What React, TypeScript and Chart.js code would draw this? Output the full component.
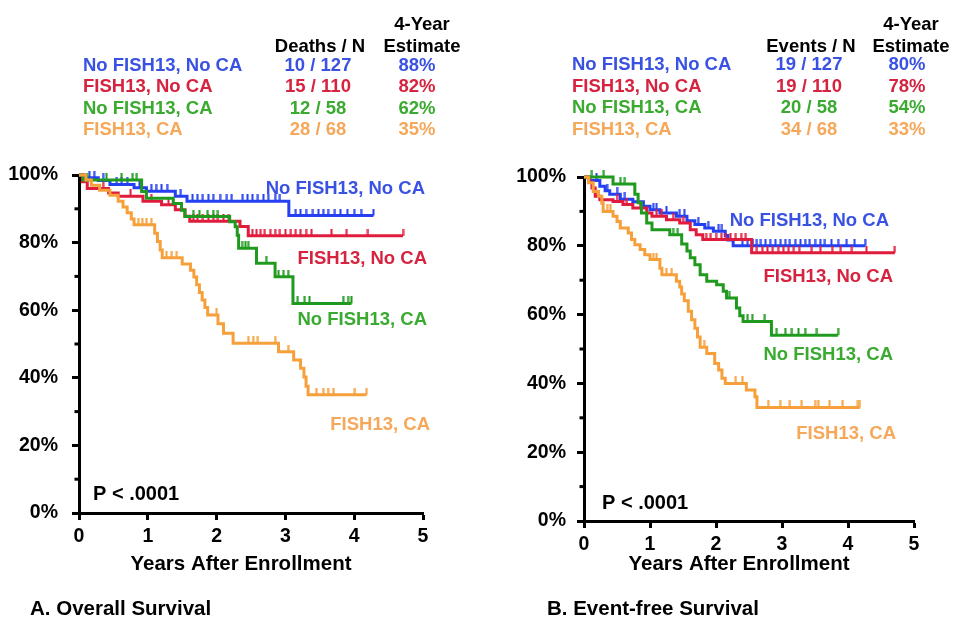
import { useEffect, useRef } from 'react';
import { Chart, registerables } from 'chart.js';

Chart.register(...registerables);

const FONT = "'Liberation Sans', Arial, Helvetica, sans-serif";

// Patient groups and summary table
const groupNames = ['No FISH13, No CA', 'FISH13, No CA', 'No FISH13, CA', 'FISH13, CA'];
const groupN = [127, 110, 58, 68];
const osDeaths = [10, 15, 12, 28];
const osEstimate = [88, 82, 62, 35];
const efsEvents = [19, 19, 20, 34];
const efsEstimate = [80, 78, 54, 33];

// Axis ticks
const xTickValues = [0, 1, 2, 3, 4, 5];
const yTickValues = [0, 0.2, 0.4, 0.6, 0.8, 1];
const yMinorTicks = [0.1, 0.3, 0.5, 0.7, 0.9];

// Overall survival: event times (years), survival after each event, censoring times
const osBlueTimes = [0.08, 0.28, 0.45, 0.8, 0.98, 1.4, 1.57, 3.05];
const osBlueSurv = [0.992, 0.984, 0.972, 0.962, 0.952, 0.937, 0.922, 0.88];
const osBlueCensor = [0.15, 0.22, 0.35, 0.55, 0.62, 0.7, 0.88, 1.05, 1.12, 1.2, 1.28, 1.48, 1.65, 1.72, 1.8, 1.88, 1.95, 2.05, 2.15, 2.22, 2.38, 2.45, 2.52, 2.6, 2.68, 2.75, 2.85, 2.92, 3.15, 3.22, 3.3, 3.4, 3.48, 3.55, 3.62, 3.72, 3.8, 3.9, 4.0, 4.1, 4.28];

const osRedTimes = [0.05, 0.12, 0.43, 0.57, 0.93, 1.2, 1.4, 1.54, 1.61, 2.34, 2.46];
const osRedSurv = [0.98, 0.96, 0.947, 0.937, 0.922, 0.912, 0.897, 0.878, 0.863, 0.848, 0.82];
const osRedCensor = [0.35, 0.75, 1.05, 1.3, 1.66, 1.72, 1.8, 1.88, 1.95, 2.02, 2.1, 2.18, 2.52, 2.58, 2.64, 2.7, 2.78, 2.85, 2.92, 3.0, 3.08, 3.15, 3.22, 3.3, 3.38, 3.67, 3.89, 4.2, 4.71];

const osGreenTimes = [0.06, 0.91, 0.98, 1.37, 1.49, 1.54, 2.19, 2.27, 2.3, 2.32, 2.58, 2.85, 3.11];
const osGreenSurv = [0.985, 0.951, 0.931, 0.916, 0.896, 0.877, 0.862, 0.847, 0.822, 0.783, 0.739, 0.699, 0.62];
const osGreenCensor = [0.12, 0.4, 0.62, 0.78, 0.84, 1.66, 1.75, 1.87, 1.95, 2.02, 2.37, 2.42, 2.46, 2.72, 2.9, 2.97, 3.04, 3.18, 3.28, 3.35, 3.84, 3.91, 3.96];

const osOrangeTimes = [0.1, 0.18, 0.3, 0.45, 0.57, 0.64, 0.7, 0.76, 0.8, 1.1, 1.14, 1.18, 1.21, 1.5, 1.62, 1.67, 1.71, 1.75, 1.79, 1.83, 1.87, 2.02, 2.1, 2.24, 2.9, 3.12, 3.22, 3.27, 3.3, 3.33];
const osOrangeSurv = [0.985, 0.97, 0.955, 0.94, 0.922, 0.905, 0.888, 0.87, 0.853, 0.828, 0.803, 0.778, 0.755, 0.737, 0.718, 0.698, 0.675, 0.652, 0.63, 0.608, 0.586, 0.56, 0.532, 0.502, 0.477, 0.453, 0.428, 0.402, 0.375, 0.35];
const osOrangeCensor = [0.86, 0.92, 0.98, 1.05, 1.27, 1.35, 1.42, 2.0, 2.46, 2.53, 2.6, 2.85, 3.04, 3.45, 3.55, 3.62, 3.7, 4.01, 4.18];

// Event-free survival
const efsBlueTimes = [0.09, 0.24, 0.32, 0.39, 0.55, 0.74, 0.9, 1.0, 1.15, 1.4, 1.56, 1.68, 1.83, 1.96, 2.14, 2.18, 2.26];
const efsBlueSurv = [0.99, 0.973, 0.96, 0.95, 0.935, 0.928, 0.915, 0.905, 0.895, 0.886, 0.873, 0.862, 0.852, 0.842, 0.83, 0.817, 0.8];
const efsBlueCensor = [0.19, 0.35, 0.5, 0.62, 1.05, 1.1, 1.25, 1.45, 1.52, 1.73, 1.88, 2.04, 2.09, 2.4, 2.48, 2.56, 2.62, 2.68, 2.75, 2.82, 2.9, 2.98, 3.05, 3.12, 3.2, 3.28, 3.35, 3.42, 3.5, 3.58, 3.65, 3.75, 3.85, 3.98, 4.1, 4.26];

const efsRedTimes = [0.08, 0.12, 0.17, 0.24, 0.44, 0.59, 0.74, 0.95, 1.03, 1.25, 1.45, 1.61, 1.7, 1.8, 2.54];
const efsRedSurv = [0.985, 0.968, 0.944, 0.934, 0.929, 0.92, 0.91, 0.895, 0.886, 0.876, 0.866, 0.847, 0.832, 0.818, 0.78];
const efsRedCensor = [0.5, 0.65, 0.85, 1.1, 1.18, 1.35, 1.5, 1.85, 1.92, 2.0, 2.08, 2.15, 2.22, 2.3, 2.38, 2.45, 2.62, 2.7, 2.78, 2.86, 2.94, 3.02, 3.1, 3.18, 3.26, 3.45, 3.58, 3.76, 3.89, 4.06, 4.28, 4.71];

const efsGreenTimes = [0.44, 0.77, 0.82, 0.87, 0.95, 1.03, 1.3, 1.48, 1.56, 1.61, 1.68, 1.76, 1.86, 2.01, 2.11, 2.16, 2.31, 2.36, 2.41, 2.84];
const efsGreenSurv = [0.98, 0.95, 0.925, 0.895, 0.866, 0.847, 0.832, 0.805, 0.785, 0.765, 0.745, 0.716, 0.697, 0.687, 0.668, 0.648, 0.619, 0.597, 0.58, 0.54];
const efsGreenCensor = [0.12, 0.3, 0.55, 0.62, 1.35, 1.42, 2.2, 2.48, 2.55, 2.74, 2.92, 3.05, 3.15, 3.25, 3.35, 3.53, 3.85];

const efsOrangeTimes = [0.07, 0.14, 0.22, 0.27, 0.29, 0.44, 0.5, 0.55, 0.67, 0.72, 0.77, 0.85, 0.92, 1.0, 1.15, 1.18, 1.4, 1.45, 1.48, 1.52, 1.58, 1.63, 1.68, 1.72, 1.76, 1.86, 1.98, 2.04, 2.09, 2.14, 2.46, 2.59, 2.62];
const efsOrangeSurv = [0.983, 0.958, 0.944, 0.924, 0.9, 0.886, 0.871, 0.852, 0.837, 0.818, 0.803, 0.789, 0.774, 0.76, 0.735, 0.716, 0.697, 0.68, 0.66, 0.64, 0.61, 0.585, 0.56, 0.535, 0.505, 0.487, 0.458, 0.439, 0.415, 0.4, 0.381, 0.361, 0.33];
const efsOrangeCensor = [0.35, 0.4, 1.05, 1.1, 1.25, 1.33, 1.82, 2.3, 2.4, 2.79, 2.97, 3.12, 3.3, 3.5, 3.55, 3.72, 3.92, 4.15, 4.18];

const lineColors = ['#2440f0', '#e01c3c', '#1f9a1f', '#f6a03c'];
const textColors = ['#3a52e2', '#d6233f', '#3aaa30', '#f5a85a'];

type Curve = { times: number[]; surv: number[]; censor: number[] };

const osCurves: Curve[] = [
  { times: osBlueTimes, surv: osBlueSurv, censor: osBlueCensor },
  { times: osRedTimes, surv: osRedSurv, censor: osRedCensor },
  { times: osGreenTimes, surv: osGreenSurv, censor: osGreenCensor },
  { times: osOrangeTimes, surv: osOrangeSurv, censor: osOrangeCensor },
];
const efsCurves: Curve[] = [
  { times: efsBlueTimes, surv: efsBlueSurv, censor: efsBlueCensor },
  { times: efsRedTimes, surv: efsRedSurv, censor: efsRedCensor },
  { times: efsGreenTimes, surv: efsGreenSurv, censor: efsGreenCensor },
  { times: efsOrangeTimes, surv: efsOrangeSurv, censor: efsOrangeCensor },
];

type PanelText = {
  header: string;
  events: number[];
  estimates: number[];
  tableLeft: number;
  headX: number;
  countX: number;
  estX: number;
  pctX: number;
  yearY: number;
  headY: number;
  rowY: number;
  rowGap: number;
  labels: [number, number][];
  pPos: [number, number];
  xTitle: [number, number];
  panel: string;
  panelPos: [number, number];
};

type PanelLayout = {
  width: number;
  yWidth: number;
  xHeight: number;
  padTop: number;
  padRight: number;
  yLabelPad: number;
};

function stepValueAt(times: number[], surv: number[], t: number) {
  let s = 1;
  for (let i = 0; i < times.length; i++) if (times[i] <= t) s = surv[i];
  return s;
}

// Small upward tick used as the censoring marker
function censorMark(color: string) {
  const c = document.createElement('canvas');
  c.width = 3;
  c.height = 14;
  const g = c.getContext('2d')!;
  g.fillStyle = color;
  g.fillRect(0.5, 0, 2, 7);
  return c;
}

function buildDatasets(curves: Curve[]) {
  const sets: any[] = [];
  curves.forEach((c, i) => {
    const end = Math.max(...c.censor);
    const last = c.surv[c.surv.length - 1];
    const pts = [{ x: 0, y: 1 }, ...c.times.map((t, k) => ({ x: t, y: c.surv[k] })), { x: end, y: last }];
    sets.push({
      type: 'line',
      label: groupNames[i],
      data: pts,
      borderColor: lineColors[i],
      borderWidth: 3,
      stepped: 'before',
      pointRadius: 0,
      fill: false,
      clip: false,
      order: 3 - i,
    });
    sets.push({
      type: 'line',
      label: groupNames[i] + ' censored',
      data: c.censor.map((t) => ({ x: t, y: stepValueAt(c.times, c.surv, t) })),
      showLine: false,
      pointStyle: censorMark(lineColors[i]),
      pointRadius: 3,
      borderColor: lineColors[i],
      backgroundColor: lineColors[i],
      clip: false,
      order: 3 - i,
    });
  });
  return sets;
}

function drawPanelText(chart: Chart, t: PanelText) {
  const ctx = chart.ctx;
  const area = chart.chartArea;
  const yScale = chart.scales.y;
  ctx.save();
  ctx.strokeStyle = '#000';
  ctx.lineWidth = 3;
  for (const v of yMinorTicks) {
    const py = yScale.getPixelForValue(v);
    ctx.beginPath();
    ctx.moveTo(area.left - 4.5, py);
    ctx.lineTo(area.left, py);
    ctx.stroke();
  }
  const put = (s: string, x: number, cy: number, size: number, color: string, align: CanvasTextAlign) => {
    ctx.font = `bold ${size}px ${FONT}`;
    ctx.fillStyle = color;
    ctx.textAlign = align;
    ctx.textBaseline = 'alphabetic';
    ctx.fillText(s, x, cy + size * 0.358);
  };
  const fs = 18.5;
  put('4-Year', t.estX, t.yearY, fs, '#000', 'center');
  put(t.header, t.headX, t.headY, fs, '#000', 'center');
  put('Estimate', t.estX, t.headY, fs, '#000', 'center');
  groupNames.forEach((g, i) => {
    const ry = t.rowY + i * t.rowGap;
    put(g, t.tableLeft, ry, fs, textColors[i], 'left');
    put(`${t.events[i]} / ${groupN[i]}`, t.countX, ry, fs, textColors[i], 'center');
    put(`${t.estimates[i]}%`, t.pctX, ry, fs, textColors[i], 'center');
    put(g, t.labels[i][0], t.labels[i][1], fs, textColors[i], 'right');
  });
  put('P < .0001', t.pPos[0], t.pPos[1], 20, '#000', 'left');
  put('Years After Enrollment', t.xTitle[0], t.xTitle[1], 20.5, '#000', 'center');
  put(t.panel, t.panelPos[0], t.panelPos[1], 20.5, '#000', 'left');
  ctx.restore();
}

function makeChart(canvas: HTMLCanvasElement, curves: Curve[], text: PanelText, lay: PanelLayout) {
  const axisGrid = {
    drawOnChartArea: false,
    drawTicks: true,
    tickLength: 7,
    tickWidth: 3,
    tickColor: '#000',
  };
  const axisBorder = { display: true, width: 3, color: '#000' };
  return new Chart(canvas, {
    type: 'line',
    data: { datasets: buildDatasets(curves) },
    options: {
      animation: false,
      responsive: false,
      events: [],
      layout: { padding: { top: lay.padTop, right: lay.padRight, bottom: 0, left: 0 } },
      plugins: { legend: { display: false }, tooltip: { enabled: false } },
      scales: {
        x: {
          type: 'linear',
          min: 0,
          max: 5,
          afterFit: (s: any) => {
            s.height = lay.xHeight;
          },
          afterBuildTicks: (s: any) => {
            s.ticks = xTickValues.map((v) => ({ value: v }));
          },
          ticks: {
            color: '#000',
            font: { family: FONT, size: 19.5, weight: 'bold' },
            padding: 5,
            maxRotation: 0,
            autoSkip: false,
            callback: (v: any) => String(v),
          },
          grid: axisGrid,
          border: axisBorder,
        },
        y: {
          type: 'linear',
          min: 0,
          max: 1,
          afterFit: (s: any) => {
            s.width = lay.yWidth;
          },
          afterBuildTicks: (s: any) => {
            s.ticks = yTickValues.map((v) => ({ value: v }));
          },
          ticks: {
            color: '#000',
            font: { family: FONT, size: 19.5, weight: 'bold' },
            padding: lay.yLabelPad,
            autoSkip: false,
            callback: (v: any) => `${Math.round(Number(v) * 100)}%`,
          },
          grid: axisGrid,
          border: axisBorder,
        },
      },
    } as any,
    plugins: [
      {
        id: 'panelText',
        afterDraw: (chart: Chart) => drawPanelText(chart, text),
      },
    ],
  });
}

const osText: PanelText = {
  header: 'Deaths / N',
  events: osDeaths,
  estimates: osEstimate,
  tableLeft: 83,
  headX: 320,
  countX: 318,
  estX: 422,
  pctX: 417,
  yearY: 23.5,
  headY: 45,
  rowY: 64,
  rowGap: 21.5,
  labels: [
    [425, 187],
    [427, 257],
    [427, 318],
    [430, 423],
  ],
  pPos: [93, 493],
  xTitle: [241, 563],
  panel: 'A. Overall Survival',
  panelPos: [30, 608],
};

const efsText: PanelText = {
  header: 'Events / N',
  events: efsEvents,
  estimates: efsEstimate,
  tableLeft: 92,
  headX: 331,
  countX: 329,
  estX: 431,
  pctX: 427,
  yearY: 23.5,
  headY: 45,
  rowY: 63.5,
  rowGap: 21.5,
  labels: [
    [409, 219],
    [413, 275],
    [413, 353],
    [416, 432],
  ],
  pPos: [122, 502],
  xTitle: [259, 563],
  panel: 'B. Event-free Survival',
  panelPos: [67, 608],
};

const osLayout: PanelLayout = { width: 480, yWidth: 79, xHeight: 106, padTop: 175, padRight: 57, yLabelPad: 14 };
const efsLayout: PanelLayout = { width: 479, yWidth: 104, xHeight: 98, padTop: 177, padRight: 45, yLabelPad: 11 };

export default function App() {
  const refA = useRef<HTMLCanvasElement>(null);
  const refB = useRef<HTMLCanvasElement>(null);

  useEffect(() => {
    const a = makeChart(refA.current!, osCurves, osText, osLayout);
    const b = makeChart(refB.current!, efsCurves, efsText, efsLayout);
    return () => {
      a.destroy();
      b.destroy();
    };
  }, []);

  return (
    <div style={{ position: 'absolute', left: 0, top: 0, width: 959, height: 619, background: '#fff', overflow: 'hidden' }}>
      <canvas ref={refA} width={480} height={619} style={{ position: 'absolute', left: 0, top: 0, width: 480, height: 619 }} />
      <canvas ref={refB} width={479} height={619} style={{ position: 'absolute', left: 480, top: 0, width: 479, height: 619 }} />
    </div>
  );
}
